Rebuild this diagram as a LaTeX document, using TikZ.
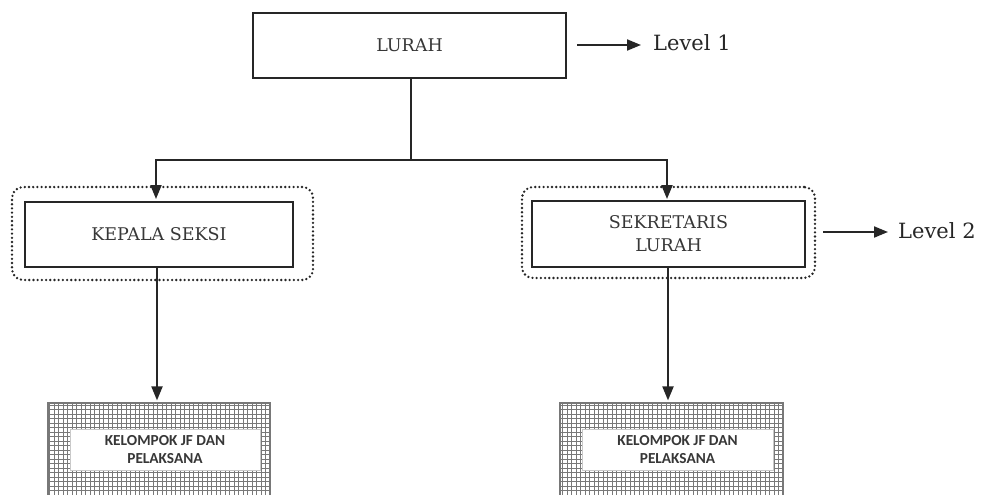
\documentclass[tikz,border=0pt]{standalone}
\usepackage{fontspec}
\setmainfont{DejaVu Serif}
\newfontfamily\boxsans{Carlito}
\usetikzlibrary{arrows.meta}
\definecolor{ink}{RGB}{55,55,55}
\definecolor{gridc}{RGB}{120,120,120}
\tikzset{
  unitbox/.style={draw=black!85, line width=2.3pt, fill=white, text=ink, align=center,
    font=\fontsize{17.5}{23}\selectfont, inner sep=0pt},
  dotbox/.style={draw=black!85, line width=2.6pt, line cap=round, dash pattern=on 0pt off 4.2pt,
    rounded corners=11pt, inner sep=0pt},
  gridbox/.style={draw=gridc, line width=1.2pt, inner sep=0pt},
  whitebox/.style={fill=white, draw=gridc!40, line width=0.4pt, text=ink, align=center,
    font=\boxsans\bfseries\fontsize{15.3}{17.5}\selectfont, inner sep=0pt},
  lvl/.style={font=\fontsize{21}{24}\selectfont, anchor=west, inner sep=0pt, text=black!85},
  conn/.style={draw=black!85, line width=2pt},
  arr/.style={conn, -{Triangle[length=14pt,width=11pt]}}
}
\begin{document}
\begin{tikzpicture}[x=1pt,y=-1pt]
\useasboundingbox (0,0) rectangle (988,495);
\clip (0,0) rectangle (988,495);

% Level 1
\node[unitbox, minimum width=313pt, minimum height=65pt] (lurah) at (409.5,45.5) {LURAH};

% Level 2 wrappers
\node[dotbox, minimum width=301pt, minimum height=93pt] (kswrap) at (162.5,233.5) {};
\node[dotbox, minimum width=293pt, minimum height=91pt] (slwrap) at (668.5,232.5) {};
\node[unitbox, minimum width=268pt, minimum height=65pt] (ks) at (159,234.5) {KEPALA SEKSI};
\node[unitbox, minimum width=273pt, minimum height=66pt] (sl) at (668.5,234) {SEKRETARIS\\LURAH};

% Level 3 grid boxes
\node[gridbox, minimum width=222pt, minimum height=100pt] (jf1) at (159,453) {};
\node[gridbox, minimum width=223pt, minimum height=100pt] (jf2) at (671.5,453) {};
\begin{scope}
  \clip (jf1.south west) rectangle (jf1.north east);
  \draw[gridc, line width=0.75pt, step=4.5pt] (jf1.south west) grid (jf1.north east);
\end{scope}
\begin{scope}
  \clip (jf2.south west) rectangle (jf2.north east);
  \draw[gridc, line width=0.75pt, step=4.5pt] (jf2.south west) grid (jf2.north east);
\end{scope}
\node[gridbox, minimum width=222pt, minimum height=100pt] at (jf1.center) {};
\node[gridbox, minimum width=223pt, minimum height=100pt] at (jf2.center) {};
\node[whitebox, minimum width=190pt, minimum height=41pt] (jf1t) at (165,449.5) {KELOMPOK JF DAN\\PELAKSANA};
\node[whitebox, minimum width=191pt, minimum height=41pt] (jf2t) at (677.5,449.5) {KELOMPOK JF DAN\\PELAKSANA};

% connectors
\coordinate (junc) at (411,160);
\draw[conn] (lurah.south -| junc) -- (junc);
\coordinate (kst) at (156,201);
\coordinate (slt) at (667,201);
\draw[arr, shorten >=2pt] (junc) -| (kst);
\draw[arr, shorten >=2pt] (junc) -| (slt);
\coordinate (ksb) at (157,267);
\coordinate (slb) at (668,267);
\draw[arr, shorten >=2pt] (ksb) -- (ksb |- jf1.north);
\draw[arr, shorten >=2pt] (slb) -- (slb |- jf2.north);

% level labels
\node[lvl] (lv1) at (653,43) {Level 1};
\node[lvl] (lv2) at (898,231) {Level 2};
\coordinate (l1s) at (577,45);
\coordinate (l2s) at (823,232);
\draw[arr, shorten >=12pt] (l1s) -- (l1s -| lv1.west);
\draw[arr, shorten >=10pt] (l2s) -- (l2s -| lv2.west);
\end{tikzpicture}
\end{document}
